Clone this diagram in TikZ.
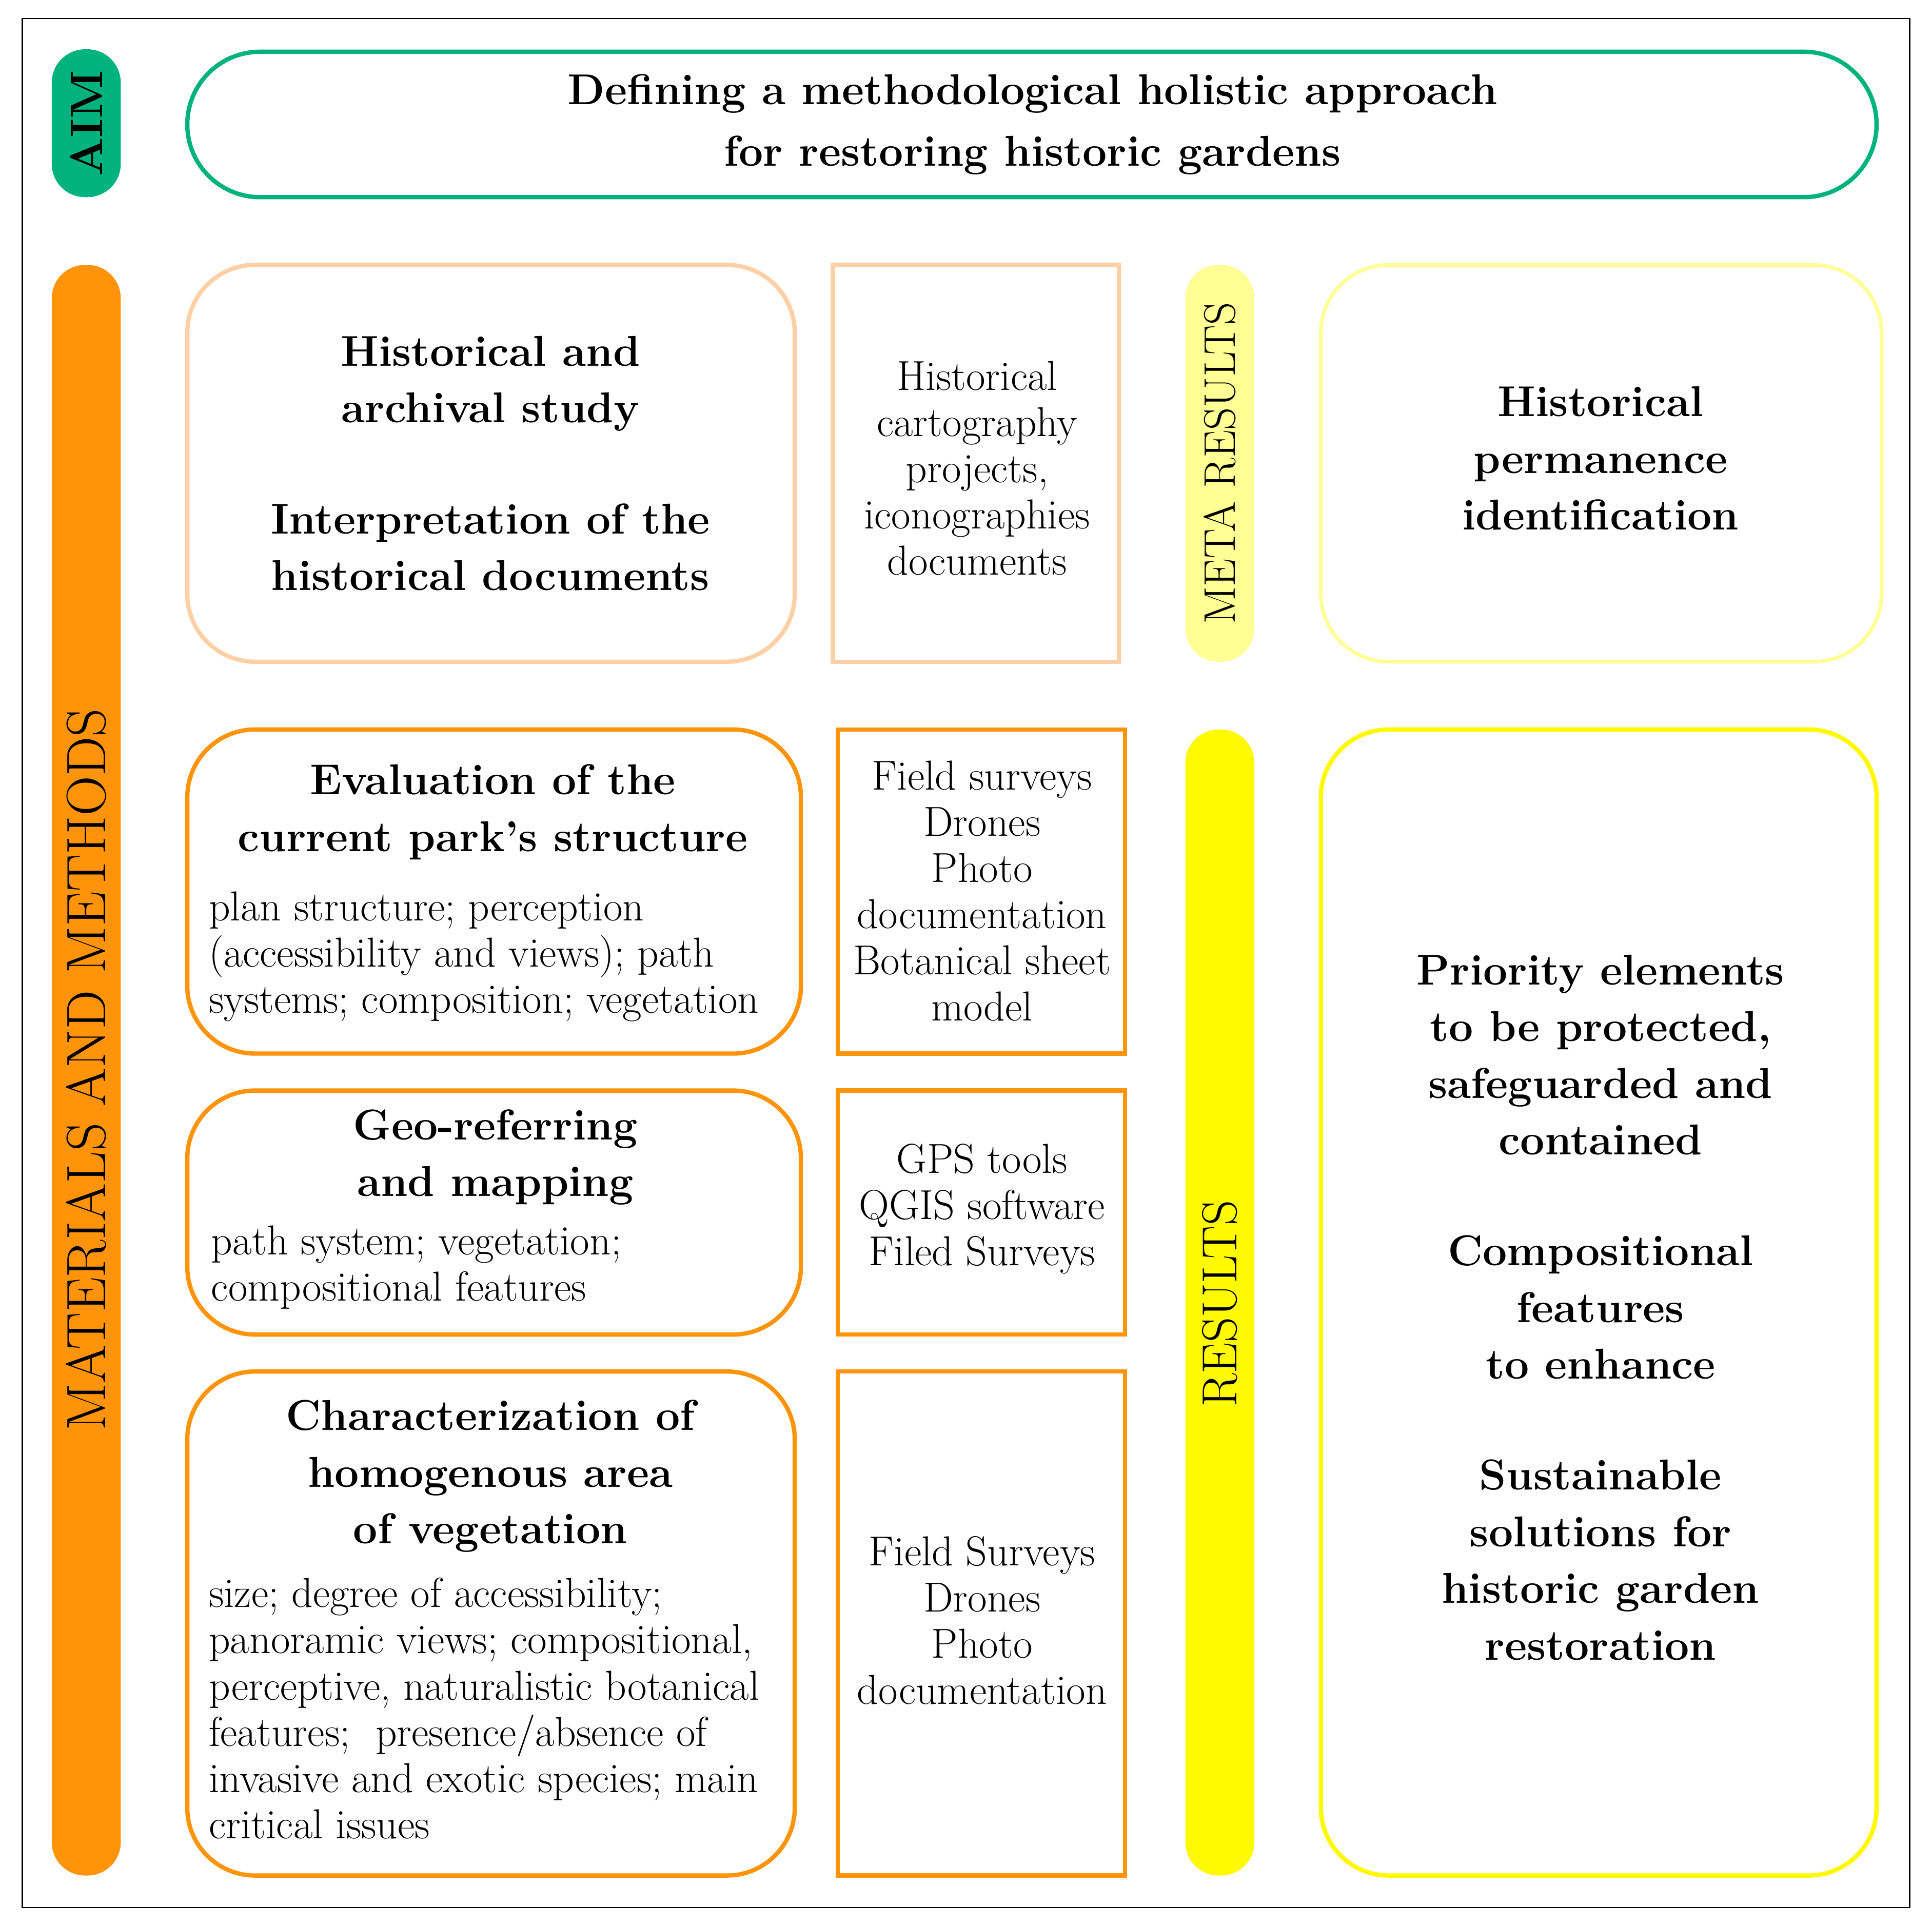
\documentclass[tikz,border=0pt]{standalone}
\usepackage{xcolor}
\definecolor{aimg}{RGB}{0,178,125}
\definecolor{org}{RGB}{255,148,10}
\definecolor{lorg}{RGB}{255,208,165}
\definecolor{lyel}{RGB}{255,255,150}
\definecolor{yel}{RGB}{255,250,0}
\begin{document}
\begin{tikzpicture}[x=1pt,y=-1pt,
  pill/.style={rounded corners=27pt},
  rbox/.style={line width=3.5pt,rounded corners=55pt},
  sbox/.style={line width=3.5pt},
  btxt/.style={font=\fontsize{35}{46}\selectfont\bfseries,align=center},
  ntxt/.style={font=\fontsize{34}{37.5}\selectfont,align=center},
  ltxt/.style={font=\fontsize{34}{37.5}\selectfont,align=left},
  vtxt/.style={font=\fontsize{45}{50}\selectfont,rotate=90}]
\useasboundingbox (0,0) rectangle (1568,1562);
\draw[line width=1.2pt] (18,15) rectangle (1550,1548);
% AIM
\fill[aimg,pill] (42,40) rectangle (98,160);
\node[rotate=90,font=\fontsize{37}{40}\selectfont\bfseries] (aim) at (70,100) {AIM};
\draw[aimg,rbox,rounded corners=59pt] (152,42) rectangle (1523,160);
\node[btxt,font=\fontsize{35}{50}\selectfont\bfseries] (aimt) at (838,101) {Defining a methodological holistic approach\\for restoring historic gardens};
% M&M bar
\fill[org,pill] (42,215) rectangle (98,1522);
\node[vtxt] (mm) at (70,868) {MATERIALS AND METHODS};
% row 1
\draw[lorg,rbox] (152,215) rectangle (645,537);
\node[btxt] (b1) at (398,376) {Historical and\\archival study\\[44pt]Interpretation of the\\historical documents};
\draw[lorg,sbox] (676,215) rectangle (908,537);
\node[ntxt] (r1) at (793,380) {Historical\\cartography\\projects,\\iconographies\\documents};
\fill[lyel,pill] (962,215) rectangle (1018,537);
\node[rotate=90,font=\fontsize{36}{40}\selectfont] (meta) at (990,376) {META RESULTS};
\draw[lyel,rbox,line width=3pt] (1072,215) rectangle (1527,537);
\node[btxt] (h) at (1299,372) {Historical\\permanence\\identification};
% row 2
\draw[org,rbox] (152,592) rectangle (650,855);
\node[btxt] (b2) at (400,659) {Evaluation of the\\current park's structure};
\node[ltxt,anchor=north west] (b2t) at (166,720) {plan structure; perception\\(accessibility and views); path\\systems; composition; vegetation};
\draw[org,sbox] (680,592) rectangle (913,855);
\node[ntxt] (r2) at (797,723) {Field surveys\\Drones\\Photo\\documentation\\Botanical sheet\\model};
% row 3
\draw[org,rbox] (152,885) rectangle (650,1083);
\node[btxt] (b3) at (402,939) {Geo-referring\\and mapping};
\node[ltxt,anchor=north west] (b3t) at (168,991) {path system; vegetation;\\compositional features};
\draw[org,sbox] (680,885) rectangle (913,1083);
\node[ntxt] (r3) at (797,981) {GPS tools\\QGIS software\\Filed Surveys};
% row 4
\draw[org,rbox] (152,1113) rectangle (645,1522);
\node[btxt] (b4) at (398,1198) {Characterization of\\homogenous area\\of vegetation};
\node[ltxt,anchor=north west] (b4t) at (166,1277) {size; degree of accessibility;\\panoramic views; compositional,\\perceptive, naturalistic botanical\\features;\ \ presence/absence of\\invasive and exotic species; main\\critical issues};
\draw[org,sbox] (680,1113) rectangle (913,1522);
\node[ntxt] (r4) at (797,1315) {Field Surveys\\Drones\\Photo\\documentation};
% results
\fill[yel,pill] (962,592) rectangle (1018,1522);
\node[rotate=90,font=\fontsize{40}{44}\selectfont] (res) at (990,1058) {RESULTS};
\draw[yel,rbox] (1072,592) rectangle (1523,1522);
\node[btxt] (rt) at (1299,1061) {Priority elements\\to be protected,\\safeguarded and\\contained\\[44pt]Compositional\\features\\to enhance\\[44pt]Sustainable\\solutions for\\historic garden\\restoration};
\end{tikzpicture}
\end{document}
